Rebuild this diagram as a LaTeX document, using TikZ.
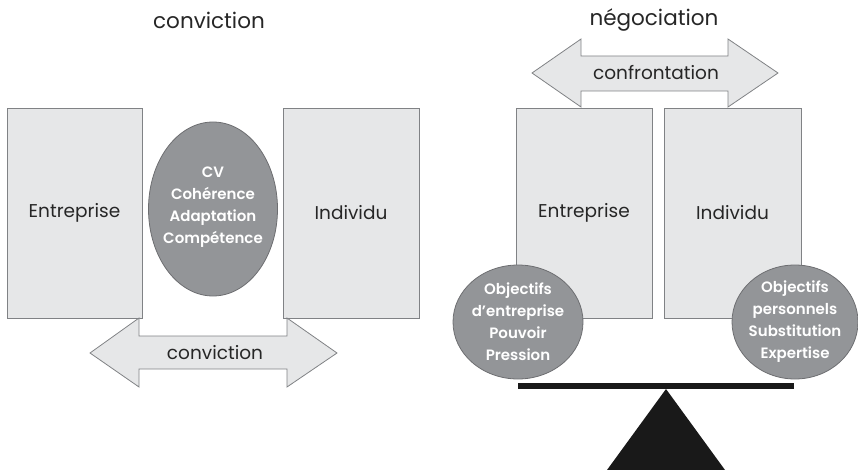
\documentclass[tikz,border=0pt]{standalone}
\usepackage{fontspec}
\setmainfont{Poppins}
\newfontfamily\bubfont{Poppins SemiBold}
\usetikzlibrary{shapes.geometric}
\definecolor{boxfill}{HTML}{E6E7E8}
\definecolor{boxline}{HTML}{808285}
\definecolor{ellfill}{HTML}{939598}
\definecolor{ellline}{HTML}{6D6E71}
\begin{document}
\begin{tikzpicture}[x=1pt,y=-1pt,
  panel/.style={draw=boxline,fill=boxfill,line width=0.8pt},
  bubble/.style={ellipse,draw=ellline,fill=ellfill,line width=0.8pt,inner sep=0pt},
  bubtext/.style={text=white,align=center,font=\fontsize{15}{22}\bubfont,inner sep=0pt},
  label/.style={font=\fontsize{18.5}{22}\selectfont,text=black!85},
  title/.style={font=\fontsize{21.5}{24}\selectfont,text=black!85}]
\useasboundingbox (0,0) rectangle (858,470);
% ---------- left: conviction ----------
\node[title] (t1) at (209,20) {conviction};
\draw[panel] (7,108) rectangle (142,318);
\node[label] (e1) at (74.5,213) {Entreprise};
\draw[panel] (283,108) rectangle (419,318);
\node[label] (i1) at (351,213) {Individu};
\node[bubble,minimum width=129pt,minimum height=174pt] (cv) at (213,209) {};
\node[bubtext] (cvt) at ([yshift=2pt]cv.center) {CV\\Cohérence\\Adaptation\\Compétence};
\draw[panel] (90,353) -- (139,318) -- (139,336) -- (287,336) -- (287,318) -- (337,353)
  -- (287,387) -- (287,369) -- (139,369) -- (139,387) -- cycle;
\node[label] (a1) at (215,353) {conviction};
% ---------- right: negociation ----------
\node[title] (t2) at (654,20) {négociation};
\draw[panel] (532,73) -- (581,39) -- (581,56) -- (728,56) -- (728,39) -- (778,73)
  -- (728,107) -- (728,91) -- (581,91) -- (581,107) -- cycle;
\node[label] (a2) at (656,73) {confrontation};
\draw[panel] (516,108) rectangle (652,318);
\node[label] (e2) at (584,213) {Entreprise};
\draw[panel] (664,108) rectangle (801,318);
\node[label] (i2) at (732.5,213) {Individu};
\node[bubble,minimum width=130pt,minimum height=114pt] (ob1) at (518,322) {};
\node[bubtext] (ob1t) at (ob1.center) {Objectifs\\d’entreprise\\Pouvoir\\Pression};
\node[bubble,minimum width=126pt,minimum height=114pt] (ob2) at (795,322) {};
\node[bubtext] (ob2t) at (ob2.center) {Objectifs\\personnels\\Substitution\\Expertise};
\fill[black!90] (518,383) rectangle (794,389);
\fill[black!90] (666,389) -- (725,470) -- (607,470) -- cycle;
\end{tikzpicture}
\end{document}
